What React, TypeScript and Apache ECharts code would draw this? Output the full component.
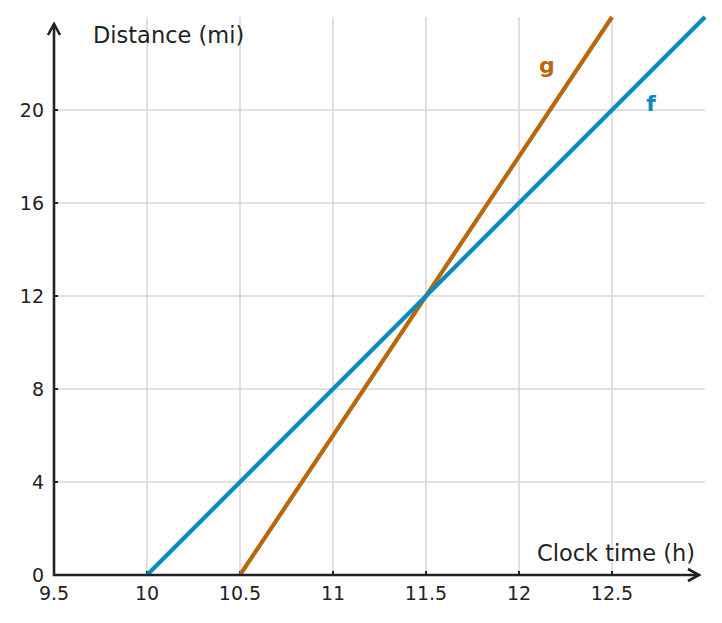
import { useEffect, useRef } from 'react';
import * as echarts from 'echarts';

// f: distance travelled by the first rider, g: by the second
const fTimes = [10, 13];
const fDistances = [0, 24];
const gTimes = [10.5, 12.5];
const gDistances = [0, 24];

const xTicks = [9.5, 10, 10.5, 11, 11.5, 12, 12.5];
const yTicks = [0, 4, 8, 12, 16, 20];

const F_COLOR = '#0a8abf';
const G_COLOR = '#b8680a';
const AXIS_COLOR = '#222';
const FONT = 'DejaVu Sans';

const App = () => {
  const chartRef = useRef<HTMLDivElement>(null);

  useEffect(() => {
    if (!chartRef.current) return;
    const chart = echarts.init(chartRef.current, undefined, { renderer: 'svg' });

    chart.setOption({
      animation: false,
      grid: { left: 46, right: 9, top: 9, bottom: 40 },
      xAxis: {
        type: 'value',
        min: 9.5,
        max: 13,
        interval: 0.5,
        axisLine: { show: false },
        axisTick: { show: true, inside: true, length: 4, lineStyle: { color: AXIS_COLOR, width: 2 } },
        axisLabel: {
          margin: 8,
          fontSize: 19,
          lineHeight: 19,
          fontFamily: FONT,
          color: AXIS_COLOR,
          showMaxLabel: false,
          formatter: (v: number) => (xTicks.includes(v) ? String(v) : ''),
        },
        splitLine: { show: true, showMinLine: false, showMaxLine: false, lineStyle: { color: '#d6d6d6', width: 1.5 } },
      },
      yAxis: {
        type: 'value',
        min: 0,
        max: 24,
        interval: 4,
        axisLine: { show: false },
        axisTick: { show: true, inside: true, length: 4, lineStyle: { color: AXIS_COLOR, width: 2 } },
        axisLabel: {
          margin: 10,
          fontSize: 19,
          lineHeight: 13,
          fontFamily: FONT,
          color: AXIS_COLOR,
          showMaxLabel: false,
          formatter: (v: number) => (yTicks.includes(v) ? String(v) : ''),
        },
        splitLine: { show: true, showMinLine: false, showMaxLine: false, lineStyle: { color: '#d6d6d6', width: 1.5 } },
      },
      series: [
        {
          name: 'f',
          type: 'line',
          data: fTimes.map((t, i) => [t, fDistances[i]]),
          symbol: 'none',
          lineStyle: { color: F_COLOR, width: 4.2 },
          z: 3,
        },
        {
          name: 'g',
          type: 'line',
          data: gTimes.map((t, i) => [t, gDistances[i]]),
          symbol: 'none',
          lineStyle: { color: G_COLOR, width: 4.2 },
          z: 2,
        },
      ],
    });

    // axes with open arrowheads, axis titles and line labels
    const origin = chart.convertToPixel({ gridIndex: 0 }, [9.5, 0]);
    const xEnd = chart.convertToPixel({ gridIndex: 0 }, [13, 0]);
    const yEnd = chart.convertToPixel({ gridIndex: 0 }, [9.5, 24]);
    const xTip = [xEnd[0] - 6, origin[1]];
    const yTip = [origin[0], yEnd[1] + 7];
    const gLabel = chart.convertToPixel({ gridIndex: 0 }, [12.15, 21.9]);
    const fLabel = chart.convertToPixel({ gridIndex: 0 }, [12.71, 20.3]);

    const arrowStyle = { stroke: AXIS_COLOR, lineWidth: 2.6, fill: 'none', lineJoin: 'miter' };

    chart.setOption({
      graphic: [
        { type: 'polyline', shape: { points: [yTip, origin, xTip] }, style: arrowStyle, z: 10 },
        {
          type: 'polyline',
          shape: { points: [[xTip[0] - 11, xTip[1] - 6], xTip, [xTip[0] - 11, xTip[1] + 6]] },
          style: arrowStyle,
          z: 10,
        },
        {
          type: 'polyline',
          shape: { points: [[yTip[0] - 6, yTip[1] + 11], yTip, [yTip[0] + 6, yTip[1] + 11]] },
          style: arrowStyle,
          z: 10,
        },
        {
          type: 'text',
          left: 85,
          top: 15,
          style: { text: 'Distance (mi)', fontSize: 22.5, fontFamily: FONT, fill: AXIS_COLOR },
        },
        {
          type: 'text',
          right: 19,
          top: 533,
          style: { text: 'Clock time (h)', fontSize: 22.5, fontFamily: FONT, fill: AXIS_COLOR },
        },
        {
          type: 'text',
          x: gLabel[0],
          y: gLabel[1],
          style: {
            text: 'g',
            fontSize: 22,
            fontWeight: 'bold',
            fontFamily: FONT,
            fill: G_COLOR,
            align: 'center',
            verticalAlign: 'middle',
          },
        },
        {
          type: 'text',
          x: fLabel[0],
          y: fLabel[1],
          style: {
            text: 'f',
            fontSize: 22,
            fontWeight: 'bold',
            fontFamily: FONT,
            fill: F_COLOR,
            align: 'center',
            verticalAlign: 'middle',
          },
        },
      ],
    });

    const handleResize = () => chart.resize();
    window.addEventListener('resize', handleResize);
    return () => {
      window.removeEventListener('resize', handleResize);
      chart.dispose();
    };
  }, []);

  return <div ref={chartRef} style={{ width: 706, height: 607 }} />;
};

export default App;
